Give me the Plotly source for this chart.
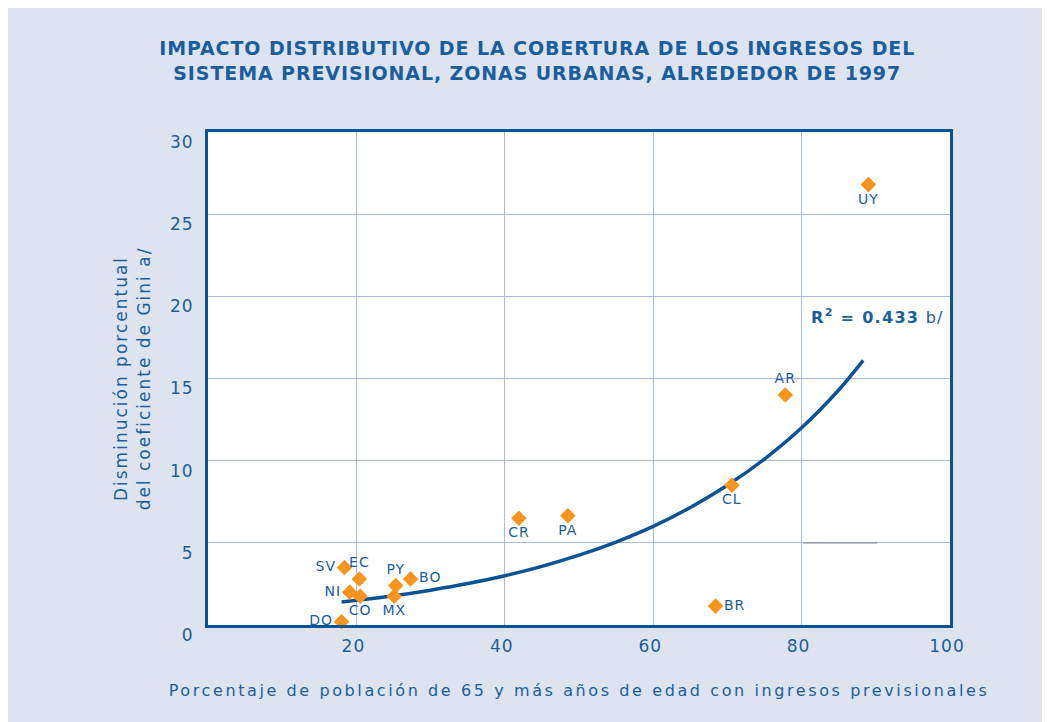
import plotly.graph_objects as go

# --- data ---
countries = ["SV", "EC", "NI", "CO", "DO", "PY", "MX", "BO", "CR", "PA", "CL", "AR", "BR", "UY"]
coverage = [18.4, 20.4, 19.1, 20.5, 18.0, 25.3, 25.1, 27.3, 41.9, 48.5, 70.6, 77.8, 68.4, 89.0]
gini_drop = [3.5, 2.8, 2.0, 1.75, 0.2, 2.4, 1.75, 2.8, 6.5, 6.65, 8.5, 14.0, 1.15, 26.8]
label_pos = ["middle left", "top center", "middle left", "bottom center", "middle left",
             "top center", "bottom center", "middle right", "bottom center", "bottom center",
             "bottom center", "top center", "middle right", "bottom center"]

# trend curve, points
trend_x = [18.0, 25, 30, 35, 40, 45, 50, 55, 60, 65, 70, 75, 80, 85, 88.3]
trend_y = [1.4, 1.78, 2.12, 2.52, 3.0, 3.57, 4.25, 5.05, 6.0, 7.15, 8.5, 10.1, 12.0, 14.3, 16.1]

x_ticks = [20, 40, 60, 80, 100]
y_ticks = [0, 5, 10, 15, 20, 25, 30]

blue = "#1b5e9e"
dark_blue = "#0b5394"
orange = "#f7941d"
grid = "#a9bbdc"
bg = "#dde4f0"
font_family = "DejaVu Sans, Verdana, sans-serif"


def spaced(txt, px):
    return f'<span style="letter-spacing:{px}px">{txt}</span>'


fig = go.Figure()

# trend line
fig.add_trace(go.Scatter(
    x=trend_x, y=trend_y, mode="lines",
    line=dict(color=dark_blue, width=3.5, shape="spline"),
    hoverinfo="skip",
))

# country points
fig.add_trace(go.Scatter(
    x=coverage, y=gini_drop, mode="markers+text",
    marker=dict(symbol="diamond", size=12, color=orange),
    text=[spaced(c, 1) for c in countries], textposition=label_pos,
    textfont=dict(size=14, color=blue, family=font_family),
    cliponaxis=False,
))

# R squared note
fig.add_annotation(
    x=81.0, y=18.8, xref="x", yref="y",
    text=spaced("<b>R<sup>2</sup> = 0.433</b> b/", 1.3),
    showarrow=False, xanchor="left",
    font=dict(size=16, color=blue, family=font_family),
)

# small grey stroke on the 5 gridline
fig.add_shape(type="line", x0=80.2, x1=90.2, y0=5, y1=5,
              line=dict(color="#8a8f99", width=1.2))

fig.update_layout(
    width=1050, height=722,
    paper_bgcolor=bg, plot_bgcolor="white",
    margin=dict(l=200, r=108, t=124, b=105),
    showlegend=False,
    font=dict(family=font_family, color=blue),
    title=dict(
        text=spaced("<b>IMPACTO DISTRIBUTIVO DE LA COBERTURA DE LOS INGRESOS DEL<br>"
                    "SISTEMA PREVISIONAL, ZONAS URBANAS, ALREDEDOR DE 1997</b>", 0.9),
        x=0.504, xanchor="center", y=0.935, yanchor="middle",
        font=dict(size=19, color=blue, family=font_family),
    ),
    xaxis=dict(
        range=[0, 100], tickvals=x_ticks, ticktext=[spaced(v, 1) for v in x_ticks],
        ticks="", showgrid=True, gridcolor=grid,
        gridwidth=1, zeroline=False, showline=True, linecolor=dark_blue, linewidth=3,
        mirror=True, tickfont=dict(size=17, color=blue), ticklabelstandoff=4,
        ticklabelshift=-3,
        title=dict(text=spaced("Porcentaje de población de 65 y más años de edad con ingresos previsionales", 2.6),
                   font=dict(size=16, color=blue), standoff=30),
    ),
    yaxis=dict(
        range=[0, 30], tickvals=y_ticks, ticktext=[spaced(v, 1) for v in y_ticks],
        ticks="", showgrid=True, gridcolor=grid,
        gridwidth=1, zeroline=False, showline=True, linecolor=dark_blue, linewidth=3,
        mirror=True, tickfont=dict(size=17, color=blue), ticklabelstandoff=8,
        ticklabelshift=10,
        title=dict(text=spaced("Disminución porcentual<br>del coeficiente de Gini a/", 2),
                   font=dict(size=17, color=blue), standoff=16),
    ),
)

fig.write_html("out.html")
